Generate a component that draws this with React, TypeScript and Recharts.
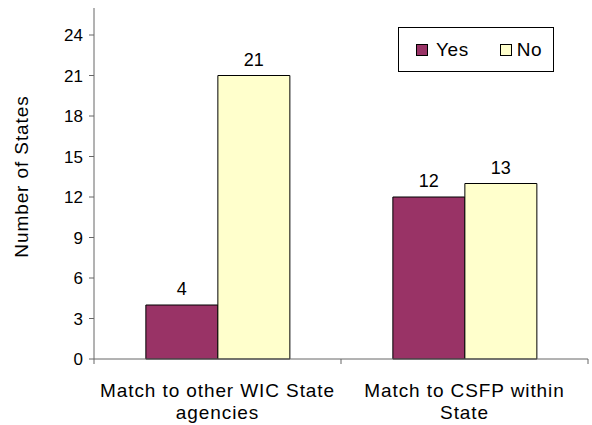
import { Bar, BarChart, LabelList, Legend, XAxis, YAxis } from "recharts";

const categories = ["Match to other WIC State agencies", "Match to CSFP within State"];
const categoryLines = [
  ["Match to other WIC State", "agencies"],
  ["Match to CSFP within", "State"],
];
const yesValues = [4, 12];
const noValues = [21, 13];
const yTicks = [0, 3, 6, 9, 12, 15, 18, 21, 24];

const YES_COLOR = "#993366";
const NO_COLOR = "#FFFFCC";
const FONT = "'Liberation Sans', Arial, sans-serif";

const data = categories.map((name, i) => ({
  name,
  yes: yesValues[i],
  no: noValues[i],
}));

function CategoryTick(props: any) {
  const { x, y, payload, index } = props;
  const half = payload?.offset ?? 0;
  const lines = categoryLines[index] ?? [String(payload.value)];
  return (
    <g>
      {index === 0 && (
        <line x1={x - half} x2={x - half} y1={y - 8} y2={y - 3} stroke="#666" />
      )}
      <line x1={x + half} x2={x + half} y1={y - 8} y2={y - 3} stroke="#666" />
      {lines.map((t: string, i: number) => (
        <text
          key={i}
          x={x}
          y={y + 30 + i * 22}
          textAnchor="middle"
          fontSize={19}
          letterSpacing={0.9}
          fontFamily={FONT}
          fill="#000"
        >
          {t}
        </text>
      ))}
    </g>
  );
}

function YLabel(props: any) {
  const { viewBox } = props;
  const cx = viewBox.x + 21;
  const cy = viewBox.y + viewBox.height / 2 - 7;
  return (
    <text
      x={cx}
      y={cy}
      transform={`rotate(-90, ${cx}, ${cy})`}
      textAnchor="middle"
      dominantBaseline="central"
      fontSize={19}
      letterSpacing={0.9}
      fontFamily={FONT}
      fill="#000"
    >
      Number of States
    </text>
  );
}

function LegendBox() {
  const items = [
    { label: "Yes", color: YES_COLOR },
    { label: "No", color: NO_COLOR },
  ];
  return (
    <div
      style={{
        border: "1px solid #000",
        background: "#fff",
        width: 156,
        height: 45,
        display: "flex",
        alignItems: "center",
        paddingLeft: 17,
        boxSizing: "border-box",
        fontFamily: FONT,
        fontSize: 19,
        letterSpacing: 0.6,
      }}
    >
      {items.map((it, i) => (
        <div
          key={it.label}
          style={{ display: "flex", alignItems: "center", marginRight: i === 0 ? 31 : 0 }}
        >
          <span
            style={{
              width: 10,
              height: 10,
              border: "1px solid #000",
              background: it.color,
              display: "inline-block",
              marginRight: i === 0 ? 8 : 5,
            }}
          />
          <span>{it.label}</span>
        </div>
      ))}
    </div>
  );
}

export default function App() {
  return (
    <div style={{ width: 592, height: 425, background: "#fff", overflow: "hidden" }}>
      <style>{"body { margin: 0; }"}</style>
      <BarChart
        width={592}
        height={425}
        data={data}
        margin={{ top: 8, right: 4, left: 0, bottom: 0 }}
        barCategoryGap="21%"
        barGap={0}
        style={{ overflow: "visible" }}
      >
        <XAxis
          dataKey="name"
          height={66}
          tickLine={false}
          axisLine={{ stroke: "#666" }}
          tick={<CategoryTick />}
          interval={0}
        />
        <YAxis
          width={94}
          domain={[0, 26]}
          ticks={yTicks}
          interval={0}
          tickSize={5}
          tickMargin={6}
          axisLine={{ stroke: "#666" }}
          tickLine={{ stroke: "#666" }}
          tick={{ fontSize: 17, fontFamily: FONT, fill: "#000" }}
          label={<YLabel />}
        />
        <Legend
          layout="horizontal"
          verticalAlign="middle"
          align="center"
          content={() => <LegendBox />}
          wrapperStyle={{ left: 398, top: 27, width: 156, height: 45 }}
        />
        <Bar dataKey="yes" name="Yes" fill={YES_COLOR} stroke="#000" strokeWidth={1} isAnimationActive={false}>
          <LabelList dataKey="yes" position="top" offset={10} fontSize={18} fontFamily={FONT} fill="#000" />
        </Bar>
        <Bar dataKey="no" name="No" fill={NO_COLOR} stroke="#000" strokeWidth={1} isAnimationActive={false}>
          <LabelList dataKey="no" position="top" offset={10} fontSize={18} fontFamily={FONT} fill="#000" />
        </Bar>
      </BarChart>
    </div>
  );
}
